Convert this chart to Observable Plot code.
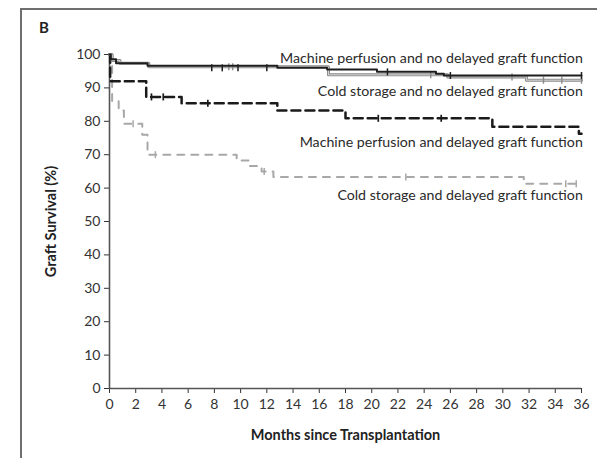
<!DOCTYPE html>
<html>
<head>
<meta charset="utf-8">
<script src="https://cdn.jsdelivr.net/npm/d3@7"></script>
<script src="https://cdn.jsdelivr.net/npm/@observablehq/plot@0.6"></script>
<style>
  html, body { margin: 0; padding: 0; background: #fff; }
  #wrap { position: relative; width: 597px; height: 458px; overflow: hidden; background: #fff; }
  #frame { position: absolute; left: 20px; top: 8px; width: 600px; height: 470px;
           border-left: 2px solid #6f6f6f; border-top: 2px solid #6f6f6f; }
  #panel { position: absolute; left: 39px; top: 18px; font: bold 15px Lato, sans-serif; color: #222; }
  #chart { position: absolute; left: 0; top: 0; }
  g[aria-label="x-axis label"] text, g[aria-label="y-axis label"] text { font-weight: bold; font-size: 14.5px; fill: #222; }
</style>
</head>
<body>
<div id="wrap">
  <div id="frame"></div>
  <div id="panel">B</div>
  <div id="chart"></div>
</div>
<script>
// ---- data ----
const xTicks = [0,2,4,6,8,10,12,14,16,18,20,22,24,26,28,30,32,34,36];
const yTicks = [0,10,20,30,40,50,60,70,80,90,100];

// Machine perfusion and no delayed graft function
const mpNoDgfMonths = [0, 0.1, 0.5, 2.9, 12.8, 16.6, 20.4, 24.9, 25.5, 36];
const mpNoDgfSurv   = [100, 98.6, 97.4, 96.6, 96.0, 95.5, 94.8, 94.2, 93.7, 93.7];
const mpNoDgfCensM  = [7.8, 8.6, 9.8, 12.0, 21.2, 26.0, 36];
const mpNoDgfCensS  = [96.0, 96.0, 96.0, 96.0, 94.8, 93.7, 93.7];

// Cold storage and no delayed graft function
const csNoDgfMonths = [0, 0.2, 0.8, 3.0, 16.7, 25.8, 31.8, 36];
const csNoDgfSurv   = [100, 98.2, 97.4, 96.3, 93.9, 93.3, 92.3, 92.3];
const csNoDgfCensM  = [9.1, 9.4, 24.5, 30.7, 33.1, 34.5, 36];
const csNoDgfCensS  = [96.3, 96.3, 93.9, 93.3, 92.3, 92.3, 92.3];

// Machine perfusion and delayed graft function
const mpDgfMonths = [0, 0.05, 2.8, 5.5, 12.8, 18.0, 29.2, 35.8, 36];
const mpDgfSurv   = [100, 92.0, 87.3, 85.4, 83.2, 80.9, 78.4, 76.3, 76.3];
const mpDgfCensM  = [3.2, 4.1, 7.5, 20.5, 25.3];
const mpDgfCensS  = [87.3, 87.3, 85.4, 80.9, 80.9];

// Cold storage and delayed graft function
const csDgfMonths = [0, 0.2, 0.7, 1.1, 2.5, 2.9, 9.7, 10.6, 11.6, 12.5, 31.6, 36];
const csDgfSurv   = [100, 86.0, 83.2, 79.3, 76.0, 70.0, 68.3, 66.6, 65.0, 63.3, 61.3, 61.3];
const csDgfCensM  = [1.8, 3.5, 11.8, 22.6, 34.8, 35.6];
const csDgfCensS  = [79.3, 70.0, 65.0, 63.3, 61.3, 61.3];

const labelTexts = [
  "Machine perfusion and no delayed graft function",
  "Cold storage and no delayed graft function",
  "Machine perfusion and delayed graft function",
  "Cold storage and delayed graft function"
];
const labelMonths = [36.1, 36.1, 36.1, 36.1];
const labelSurv   = [98.7, 88.8, 73.7, 57.8];

// ---- build tables ----
const rows = (m, s) => m.map((t, i) => ({t, v: s[i]}));
const mpNoDgf = rows(mpNoDgfMonths, mpNoDgfSurv);
const csNoDgf = rows(csNoDgfMonths, csNoDgfSurv);
const mpDgf = rows(mpDgfMonths, mpDgfSurv);
const csDgf = rows(csDgfMonths, csDgfSurv);
const labels = labelTexts.map((text, i) => ({text, t: labelMonths[i], v: labelSurv[i]}));

const vbar = {
  draw(ctx, size) {
    const h = Math.sqrt(size / Math.PI);
    ctx.moveTo(0, -h); ctx.lineTo(0, h);
  }
};

const chart = Plot.plot({
  width: 597,
  height: 458,
  marginLeft: 109,
  marginRight: 16,
  marginTop: 54,
  marginBottom: 70,
  style: {fontFamily: "Lato, sans-serif", fontSize: "14px", color: "#333", background: "transparent", overflow: "visible"},
  x: {domain: [0, 36], ticks: xTicks, tickSize: 5, tickPadding: 6,
      label: "Months since Transplantation", labelAnchor: "center", labelArrow: "none", labelOffset: 51},
  y: {domain: [0, 100], ticks: yTicks, tickSize: 5, tickPadding: 4,
      label: "Graft Survival (%)", labelAnchor: "center", labelArrow: "none", labelOffset: 64},
  marks: [
    Plot.ruleX([0], {stroke: "#555", strokeWidth: 1.6}),
    Plot.ruleY([0], {stroke: "#555", strokeWidth: 1.6}),
    Plot.line(csDgf, {x: "t", y: "v", curve: "step-after", stroke: "#a8a8a8", strokeWidth: 2, strokeDasharray: "7,7"}),
    Plot.dot(rows(csDgfCensM, csDgfCensS), {x: "t", y: "v", symbol: vbar, r: 3.5, stroke: "#a8a8a8", fill: "none", strokeWidth: 1.5}),
    Plot.line(mpDgf, {x: "t", y: "v", curve: "step-after", stroke: "#1a1a1a", strokeWidth: 2.5, strokeDasharray: "9,5"}),
    Plot.dot(rows(mpDgfCensM, mpDgfCensS), {x: "t", y: "v", symbol: vbar, r: 3.5, stroke: "#1a1a1a", fill: "none", strokeWidth: 1.7}),
    Plot.line(csNoDgf, {x: "t", y: "v", curve: "step-after", stroke: "#8a8a8a", strokeWidth: 3}),
    Plot.line(csNoDgf, {x: "t", y: "v", curve: "step-after", stroke: "#d8d8d8", strokeWidth: 1}),
    Plot.dot(rows(csNoDgfCensM, csNoDgfCensS), {x: "t", y: "v", symbol: vbar, r: 3.5, stroke: "#8a8a8a", fill: "none", strokeWidth: 1.4}),
    Plot.line(mpNoDgf, {x: "t", y: "v", curve: "step-after", stroke: "#1e1e1e", strokeWidth: 2}),
    Plot.dot(rows(mpNoDgfCensM, mpNoDgfCensS), {x: "t", y: "v", symbol: vbar, r: 3.5, stroke: "#1e1e1e", fill: "none", strokeWidth: 1.5}),
    Plot.text(labels, {x: "t", y: "v", text: "text", textAnchor: "end", fill: "#2a2a2a", fontSize: 14.2})
  ]
});
document.getElementById("chart").appendChild(chart);
</script>
</body>
</html>
